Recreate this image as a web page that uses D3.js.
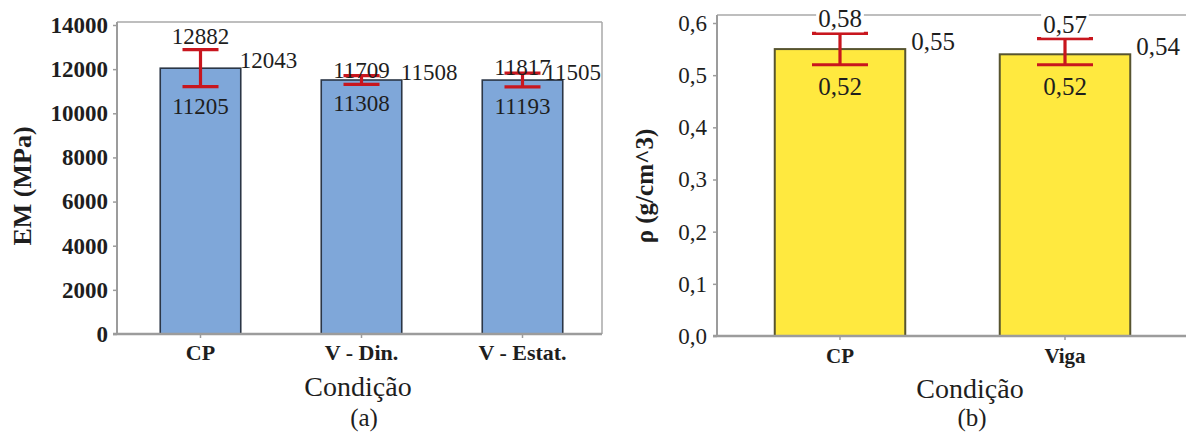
<!DOCTYPE html>
<html>
<head>
<meta charset="utf-8">
<script src="https://cdn.jsdelivr.net/npm/d3@7"></script>
<style>
  html, body { margin: 0; padding: 0; background: #fff; }
  svg { display: block; }
  text { font-family: "Liberation Serif", "Times New Roman", serif; fill: #1e1e1e; }
</style>
</head>
<body>
<svg id="chart" width="1186" height="432"></svg>
<script>
// (a) modulus of elasticity per condition
const emCategories = ["CP", "V - Din.", "V - Estat."];
const emMean = [12043, 11508, 11505];
const emLow = [11205, 11308, 11193];
const emHigh = [12882, 11709, 11817];
const emTicks = [0, 2000, 4000, 6000, 8000, 10000, 12000, 14000];

// (b) density per condition
const rhoCategories = ["CP", "Viga"];
const rhoMean = [0.55, 0.54];
const rhoLow = [0.52, 0.52];
const rhoHigh = [0.58, 0.57];
const rhoTicks = [0, 0.1, 0.2, 0.3, 0.4, 0.5, 0.6];

const ptBR = d3.formatLocale({ decimal: ",", thousands: ".", grouping: [3], currency: ["R$", ""] });

const svg = d3.select("#chart");
const AXIS = "#9c9c9c";
const RED = "#c8161e";

function drawPanel(cfg) {
  const g = svg.append("g");
  const f = cfg.frame;
  const x = d3.scaleBand().domain(cfg.categories).range(cfg.xRange)
    .paddingInner(cfg.padding).paddingOuter(cfg.padding / 2);
  const y = d3.scaleLinear().domain(cfg.yDomain).range(cfg.yRange);

  // frame: top border and right border
  g.append("line").attr("x1", f.left).attr("x2", f.right).attr("y1", f.top).attr("y2", f.top)
    .attr("stroke", "#a9a9a9").attr("stroke-width", 1.5);
  g.append("line").attr("x1", f.right).attr("x2", f.right).attr("y1", f.top).attr("y2", f.bottom)
    .attr("stroke", "#a9a9a9").attr("stroke-width", 1.5);

  // y axis
  const ya = g.append("g").attr("transform", `translate(${f.left},0)`)
    .call(d3.axisLeft(y).tickValues(cfg.yTicks).tickFormat(cfg.tickFormat)
      .tickSize(4).tickSizeOuter(0).tickPadding(cfg.yTickPadding));
  ya.select(".domain").remove();
  ya.selectAll(".tick line").attr("stroke", AXIS).attr("stroke-width", 1.5);
  ya.selectAll(".tick text").style("font-size", cfg.yTickSize + "px").style("font-weight", cfg.yTickWeight);
  g.append("line").attr("x1", f.left).attr("x2", f.left).attr("y1", f.top).attr("y2", f.bottom)
    .attr("stroke", AXIS).attr("stroke-width", 2);

  // bars
  g.selectAll("rect.bar").data(cfg.categories).join("rect").attr("class", "bar")
    .attr("x", d => x(d)).attr("width", x.bandwidth())
    .attr("y", (d, i) => y(cfg.mean[i])).attr("height", (d, i) => y(0) - y(cfg.mean[i]))
    .attr("fill", cfg.fill).attr("stroke", cfg.stroke).attr("stroke-width", cfg.strokeWidth);

  // x axis
  const xa = g.append("g").attr("transform", `translate(0,${f.bottom})`)
    .call(d3.axisBottom(x).tickSize(4).tickSizeOuter(0).tickPadding(cfg.xTickPadding));
  xa.select(".domain").remove();
  xa.selectAll(".tick line").attr("stroke", AXIS).attr("stroke-width", 1.5);
  xa.selectAll(".tick text").style("font-size", cfg.xTickSize + "px").style("font-weight", "bold");
  g.append("line").attr("x1", f.left - 4).attr("x2", f.right).attr("y1", f.bottom).attr("y2", f.bottom)
    .attr("stroke", AXIS).attr("stroke-width", 2.5);

  // error bars
  const cx = d => x(d) + x.bandwidth() / 2;
  const eb = g.selectAll("g.err").data(cfg.categories).join("g").attr("class", "err")
    .attr("stroke", RED).attr("stroke-width", 3.2);
  eb.append("line").attr("x1", cx).attr("x2", cx)
    .attr("y1", (d, i) => y(cfg.low[i])).attr("y2", (d, i) => y(cfg.high[i]));
  eb.append("line").attr("x1", d => cx(d) - cfg.capHalf).attr("x2", d => cx(d) + cfg.capHalf)
    .attr("y1", (d, i) => y(cfg.high[i])).attr("y2", (d, i) => y(cfg.high[i]));
  eb.append("line").attr("x1", d => cx(d) - cfg.capHalf).attr("x2", d => cx(d) + cfg.capHalf)
    .attr("y1", (d, i) => y(cfg.low[i])).attr("y2", (d, i) => y(cfg.low[i]));

  // value labels
  const lbl = g.append("g").style("font-size", cfg.labelSize + "px");
  cfg.categories.forEach((c, i) => {
    const top = y(cfg.high[i]);
    const barTop = y(cfg.mean[i]);
    // a short error bar lets the label sit right on its cap
    const hiY = (barTop - top) > 10 ? top - 6 : top + 2;
    const hi = lbl.append("text").attr("x", cx(c)).attr("y", hiY).attr("text-anchor", "middle")
      .text(cfg.labelFormat(cfg.high[i]));
    if (cfg.labelBackground) {
      const b = hi.node().getBBox();
      lbl.insert("rect", () => hi.node()).attr("x", b.x - 2).attr("y", b.y).attr("width", b.width + 4)
        .attr("height", b.height).attr("fill", "#fff");
    }
    lbl.append("text").attr("x", cx(c)).attr("y", y(cfg.low[i]) + cfg.lowDy).attr("text-anchor", "middle")
      .text(cfg.labelFormat(cfg.low[i]));
    const m = lbl.append("text").attr("y", barTop + cfg.meanDy).text(cfg.labelFormat(cfg.mean[i]));
    const w = m.node().getComputedTextLength();
    m.attr("x", Math.min(x(c) + x.bandwidth() + cfg.meanDx, f.right - w - 1));
  });

  // titles
  g.append("text").attr("x", cfg.titleX).attr("y", f.bottom + 62).attr("text-anchor", "middle")
    .style("font-size", "28px").text("Condição");
  g.append("text").attr("x", cfg.subX).attr("y", 426).attr("text-anchor", "middle")
    .style("font-size", "25px").text(cfg.sub);
  g.append("text").attr("transform", `translate(${cfg.yTitleX},${cfg.yTitleY}) rotate(-90)`)
    .attr("text-anchor", "middle").style("font-size", cfg.yTitleSize + "px").style("font-weight", "bold")
    .text(cfg.yTitle);
}

drawPanel({
  categories: emCategories, mean: emMean, low: emLow, high: emHigh, yTicks: emTicks,
  frame: { left: 117, right: 602, top: 22, bottom: 334 },
  xRange: [120, 603], padding: 0.5, yDomain: [0, 14000], yRange: [334, 25],
  tickFormat: d3.format("d"), yTickPadding: 5, yTickSize: 23, yTickWeight: "bold",
  xTickPadding: 6, xTickSize: 22,
  fill: "#7fa7d9", stroke: "#2b3646", strokeWidth: 1.6, capHalf: 18,
  labelSize: 23, labelFormat: d3.format("d"), labelBackground: false,
  lowDy: 27, meanDx: -1, meanDy: 0,
  titleX: 358, subX: 364, sub: "(a)",
  yTitle: "EM  (MPa)", yTitleX: 31, yTitleY: 186, yTitleSize: 26
});

drawPanel({
  categories: rhoCategories, mean: rhoMean, low: rhoLow, high: rhoHigh, yTicks: rhoTicks,
  frame: { left: 717, right: 1192, top: 15, bottom: 336 },
  xRange: [727.5, 1177.5], padding: 0.42, yDomain: [0, 0.6], yRange: [336, 23],
  tickFormat: ptBR.format(".1f"), yTickPadding: 6, yTickSize: 23, yTickWeight: "normal",
  xTickPadding: 8, xTickSize: 21,
  fill: "#ffe93f", stroke: "#57542f", strokeWidth: 2, capHalf: 28,
  labelSize: 25, labelFormat: ptBR.format(".2f"), labelBackground: true,
  lowDy: 30, meanDx: 6, meanDy: 1,
  titleX: 970, subX: 972, sub: "(b)",
  yTitle: "ρ (g/cm^3)", yTitleX: 653, yTitleY: 186, yTitleSize: 25
});
</script>
</body>
</html>
